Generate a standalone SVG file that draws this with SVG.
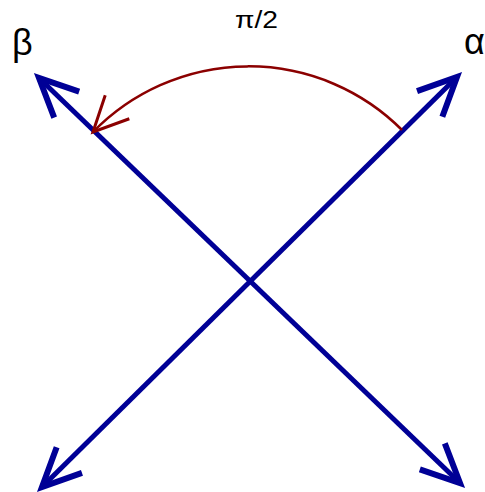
<svg xmlns="http://www.w3.org/2000/svg" width="485" height="492" viewBox="0 0 485 492">
<style>
.axis{fill:none;stroke:#000096;stroke-width:5}
.angle{fill:none;stroke:#8b0000;stroke-width:2.5}
.lbl{font-family:"Liberation Sans",Arial,sans-serif;fill:#000}
</style>
<defs>
<marker id="ah" markerUnits="userSpaceOnUse" orient="auto-start-reverse" markerWidth="60" markerHeight="60" refX="0" refY="0" viewBox="-40 -25 50 50" overflow="visible">
<path d="M-32,-15 L0,0 L-32,15" fill="none" stroke="#000096" stroke-width="5"/>
</marker>
<marker id="rh" markerUnits="userSpaceOnUse" orient="auto" markerWidth="60" markerHeight="60" refX="0" refY="0" viewBox="-40 -25 50 50" overflow="visible">
<path d="M-29,-14 L0,0 L-29,14" fill="none" stroke="#8b0000" stroke-width="2.5"/>
</marker>
</defs>
<g id="connectors">
<path id="beta-axis" class="axis" d="M39,78 L460,483" marker-start="url(#ah)" marker-end="url(#ah)"/>
<path id="alpha-axis" class="axis" d="M457,77 L42,487" marker-start="url(#ah)" marker-end="url(#ah)"/>
<path id="angle-arc" class="angle" d="M402,130 A217,217 0 0 0 93,132" marker-end="url(#rh)"/>
</g>
<g id="label-beta"><text class="lbl" x="12" y="55" font-size="36">β</text></g>
<g id="label-alpha"><text class="lbl" x="464" y="54" font-size="36">α</text></g>
<g id="label-angle"><text class="lbl" x="235" y="28" font-size="23" textLength="43" lengthAdjust="spacingAndGlyphs">π/2</text></g>
</svg>
